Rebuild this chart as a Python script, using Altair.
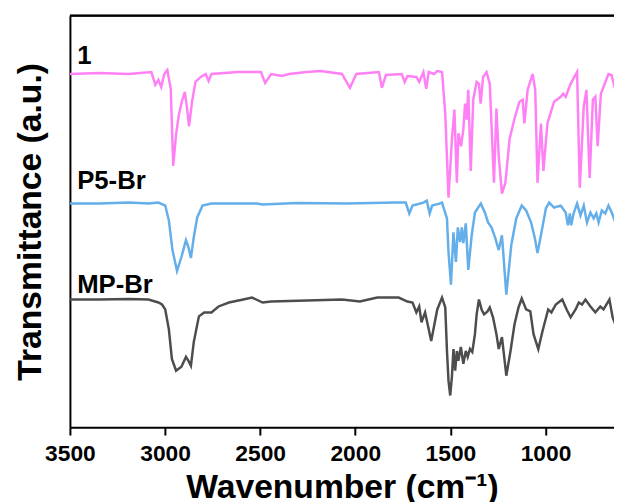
import altair as alt
import pandas as pd

# ---- data (wavenumber in cm-1, offset transmittance in a.u.) ----
wn_1 = [3500, 3347, 3191, 3072, 3051, 3035, 3020, 3004, 2988, 2970, 2957, 2942, 2927, 2912, 2896,
        2884, 2874, 2858, 2840, 2812, 2786, 2771, 2756, 2619, 2496, 2474, 2442, 2385, 2349, 2255,
        2182, 2070, 2028, 1995, 1876, 1860, 1839, 1756, 1740, 1726, 1679, 1664, 1642, 1627, 1614,
        1586, 1569, 1544, 1527, 1510, 1492, 1479, 1466, 1458, 1444, 1432, 1423, 1414, 1406, 1393,
        1380, 1362, 1350, 1341, 1328, 1310, 1293, 1271, 1258, 1246, 1229, 1211, 1189, 1163, 1137,
        1120, 1111, 1094, 1068, 1054, 1042, 1024, 1011, 990, 955, 920, 907, 894, 868, 834,
        820, 799, 785, 768, 751, 738, 726, 709, 669, 653, 633]
t_1 = [356, 357, 356, 358, 345, 350, 343, 356, 360, 341, 263, 295, 315, 328, 338,
       321, 303, 328, 348, 353, 356, 349, 356, 358, 358, 347, 356, 354, 356, 358,
       359, 356, 342, 356, 358, 342, 355, 356, 348, 354, 353, 348, 358, 341, 358,
       356, 359, 358, 316, 231, 290, 320, 246, 296, 283, 300, 326, 310, 340, 258,
       330, 348, 346, 326, 353, 358, 346, 246, 321, 273, 235, 246, 290, 311, 328,
       330, 306, 340, 356, 340, 246, 306, 258, 306, 328, 333, 336, 333, 346, 358,
       241, 323, 340, 251, 330, 333, 283, 336, 356, 355, 340]

wn_p5 = [3500, 3347, 3191, 3087, 3035, 2999, 2980, 2961, 2937, 2914, 2890, 2877, 2864, 2849, 2831,
         2803, 2756, 2515, 2489, 2307, 2047, 1787, 1735, 1716, 1699, 1642, 1624, 1609, 1596, 1558,
         1544, 1518, 1510, 1497, 1484, 1471, 1461, 1449, 1440, 1432, 1419, 1406, 1388, 1371, 1340,
         1319, 1302, 1284, 1264, 1246, 1229, 1206, 1180, 1154, 1125, 1102, 1076, 1056, 1042, 1024,
         998, 981, 955, 920, 894, 882, 872, 865, 851, 834, 816, 799, 782, 764, 747,
         733, 721, 704, 686, 669, 652, 633]
t_p5 = [225, 225, 226, 225, 226, 223, 208, 178, 157, 171, 188, 181, 170, 191, 211,
        223, 225, 225, 224, 225.5, 225, 226, 226, 215, 223, 226, 228, 215, 223, 225,
        226, 210, 176, 143, 196, 166, 201, 186, 201, 185, 205, 158, 193, 216, 225,
        216, 206, 201, 190, 178, 193, 133, 183, 210, 223, 218, 206, 190, 175, 193,
        220, 226, 221, 223, 216, 203, 215, 203, 216, 225, 213, 223, 206, 216, 210,
        215, 206, 218, 215, 223, 216, 206]

wn_mp = [3500, 3347, 3191, 3087, 3035, 3016, 2999, 2980, 2964, 2942, 2914, 2890, 2877, 2864, 2849,
         2822, 2794, 2756, 2719, 2664, 2589, 2543, 2487, 2442, 2255, 2070, 1976, 1884, 1772, 1726,
         1699, 1679, 1664, 1652, 1633, 1614, 1601, 1586, 1569, 1544, 1527, 1518, 1510, 1501, 1492,
         1484, 1475, 1466, 1458, 1445, 1432, 1419, 1409, 1397, 1385, 1371, 1362, 1350, 1336, 1323,
         1305, 1293, 1276, 1258, 1246, 1229, 1206, 1184, 1163, 1142, 1125, 1102, 1080, 1063, 1038,
         1016, 986, 969, 946, 912, 889, 868, 842, 825, 808, 790, 764, 738, 712, 695,
         664, 647, 633]
t_mp = [128, 128, 128.5, 128, 125, 123, 118, 98, 68, 56, 60, 70, 66, 61, 85,
        111, 115, 115, 121, 125, 128, 130, 125, 126, 127, 128, 126, 130, 130, 126,
        125, 115, 121, 105, 115, 98, 86, 101, 118, 130, 120, 76, 46, 31, 50,
        78, 56, 76, 66, 80, 63, 76, 70, 78, 75, 93, 113, 128, 118, 113,
        116, 120, 110, 93, 78, 90, 51, 76, 103, 120, 129, 118, 116, 93, 78,
        96, 118, 115, 123, 128, 118, 110, 118, 125, 123, 128, 121, 115, 121, 118,
        128, 110, 103]

series_names = ["1", "P5-Br", "MP-Br"]
series_colors = ["#ff80f5", "#64aeea", "#4d4d4d"]

label_text = ["1", "P5-Br", "MP-Br"]
label_wn = [3462, 3462, 3462]
label_t = [366, 240, 135]

x_ticks = [3500, 3000, 2500, 2000, 1500, 1000]

# ---- tables ----
rows = []
for name, xs, ys in [("1", wn_1, t_1), ("P5-Br", wn_p5, t_p5), ("MP-Br", wn_mp, t_mp)]:
    for a, b in zip(xs, ys):
        rows.append({"series": name, "wn": a, "t": b})
df = pd.DataFrame(rows)
labels_df = pd.DataFrame({"text": label_text, "wn": label_wn, "t": label_t})

FONT = "Liberation Sans"

x_scale = alt.Scale(domain=[3500, 640], nice=False, zero=False)
y_scale = alt.Scale(domain=[-1, 415], nice=False, zero=False)

x_axis = alt.Axis(
    values=x_ticks, format="d", title="Wavenumber (cm\u207b\u00b9)",
    grid=False, domainColor="black", domainWidth=2, tickColor="black", tickWidth=2,
    tickSize=8, labelFont=FONT, labelFontSize=23, labelFontWeight="bold", labelColor="black",
    labelPadding=8, labelFlush=False, labelOverlap=False,
    titleFont=FONT, titleFontSize=34, titleFontWeight="bold", titleColor="black", titlePadding=5,
)
y_axis = alt.Axis(
    title="Transmittance (a.u.)", labels=False, ticks=False, grid=False,
    domainColor="black", domainWidth=2,
    titleFont=FONT, titleFontSize=34, titleFontWeight="bold", titleColor="black", titlePadding=23,
)

lines = alt.Chart(df).mark_line(strokeWidth=2.5, clip=True).encode(
    x=alt.X("wn:Q", scale=x_scale, axis=x_axis),
    y=alt.Y("t:Q", scale=y_scale, axis=y_axis),
    color=alt.Color("series:N", scale=alt.Scale(domain=series_names, range=series_colors), legend=None),
    detail="series:N",
)

texts = alt.Chart(labels_df).mark_text(
    align="left", baseline="alphabetic", font=FONT, fontSize=26, fontWeight="bold", color="black"
).encode(
    x=alt.X("wn:Q", scale=x_scale),
    y=alt.Y("t:Q", scale=y_scale),
    text="text:N",
)

top_line = alt.Chart(labels_df).mark_rule(color="black", strokeWidth=2).encode(y=alt.value(0))

chart = alt.layer(lines, texts, top_line).properties(
    width=550, height=416,
    padding={"left": 62.6, "top": 5, "right": 0, "bottom": 78},
    autosize=alt.AutoSizeParams(type="none"),
).configure_view(stroke=None)

chart.save("out.html", embed_options={"renderer": "svg", "actions": False})
